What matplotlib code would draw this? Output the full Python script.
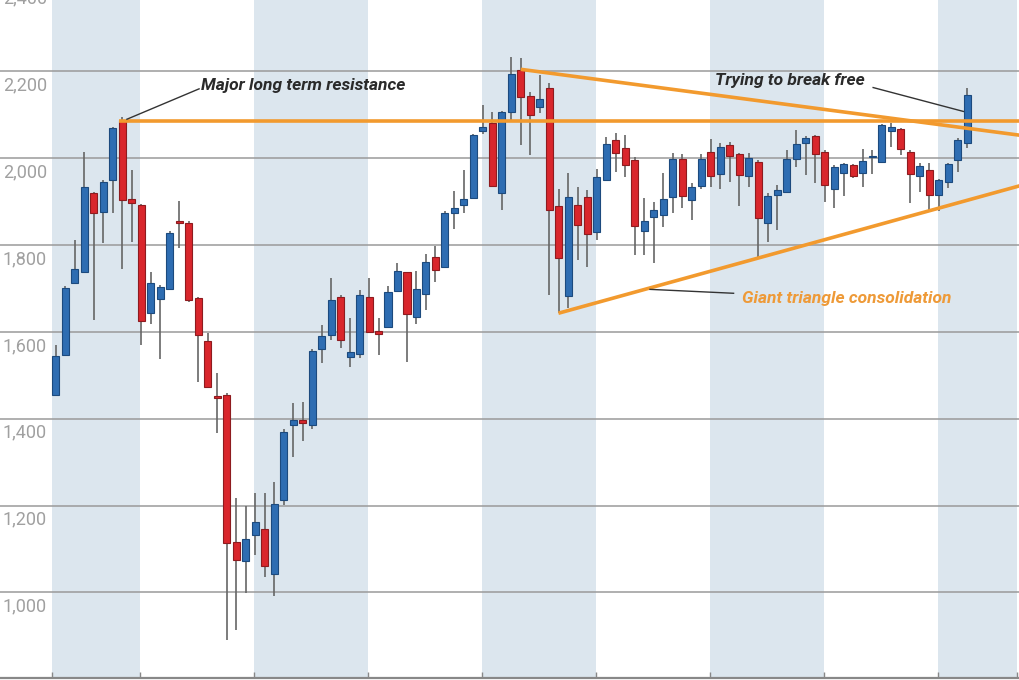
import matplotlib
matplotlib.use("Agg")
import matplotlib.pyplot as plt
import numpy as np

# ---------------- data (monthly candles) ----------------
opens = [1455, 1547, 1712, 1739, 1919, 1877, 1950, 2088, 1906, 1892,
         1644, 1676, 1700, 1853, 1850, 1677, 1579, 1453, 1455, 1117,
         1072, 1132, 1146, 1042, 1213, 1386, 1396, 1385, 1560, 1593,
         1681, 1543, 1549, 1681, 1603, 1611, 1694, 1737, 1634, 1687,
         1772, 1750, 1873, 1893, 1908, 2062, 2081, 1921, 2107, 2203,
         2144, 2119, 2161, 1889, 1683, 1892, 1910, 1831, 1950, 2042,
         2023, 1995, 1833, 1864, 1869, 1910, 1998, 1904, 1936, 2015,
         1964, 2031, 2010, 1960, 1992, 1852, 1915, 1923, 1998, 2036,
         2051, 2015, 1929, 1967, 1985, 1967, 2002, 1992, 2063, 2067,
         2015, 1959, 1973, 1915, 1946, 1996, 2035]
highs = [1570, 1705, 1812, 2015, 1922, 1950, 2072, 2095, 1973, 1895,
         1739, 1708, 1832, 1902, 1855, 1680, 1597, 1505, 1460, 1217,
         1199, 1228, 1228, 1255, 1376, 1437, 1439, 1560, 1616, 1724,
         1684, 1631, 1697, 1724, 1631, 1706, 1758, 1739, 1741, 1780,
         1799, 1878, 1925, 1973, 2056, 2123, 2106, 2110, 2233, 2230,
         2153, 2192, 2173, 1929, 1965, 1933, 1927, 1975, 2050, 2058,
         2054, 2002, 1908, 1900, 1965, 2013, 2010, 1944, 2010, 2044,
         2035, 2038, 2013, 2013, 1995, 1921, 1938, 2019, 2065, 2051,
         2053, 2018, 1984, 1989, 1987, 2021, 2019, 2080, 2081, 2070,
         2019, 1990, 1988, 1953, 1990, 2046, 2161]
lows = [1455, 1545, 1710, 1739, 1627, 1805, 1874, 1744, 1808, 1570,
        1618, 1537, 1696, 1793, 1670, 1485, 1470, 1366, 890, 913,
        998, 1086, 1036, 992, 1201, 1312, 1349, 1376, 1529, 1581,
        1562, 1520, 1541, 1598, 1547, 1609, 1692, 1531, 1618, 1650,
        1716, 1748, 1836, 1873, 1906, 2055, 1934, 1881, 2088, 2031,
        2008, 2104, 1685, 1643, 1654, 1766, 1750, 1812, 1948, 1968,
        1958, 1777, 1777, 1758, 1842, 1873, 1885, 1858, 1929, 1935,
        1929, 1946, 1889, 1935, 1773, 1808, 1835, 1921, 1981, 1962,
        1944, 1900, 1885, 1913, 1955, 1935, 1964, 1990, 2027, 2008,
        1898, 1923, 1882, 1879, 1931, 1969, 2023]
closes = [1545, 1702, 1744, 1935, 1873, 1946, 2069, 1904, 1897, 1624,
          1712, 1704, 1829, 1852, 1674, 1594, 1474, 1448, 1113, 1075,
          1124, 1161, 1061, 1204, 1369, 1396, 1390, 1556, 1591, 1674,
          1581, 1554, 1685, 1600, 1596, 1692, 1741, 1641, 1698, 1762,
          1743, 1873, 1885, 1906, 2054, 2071, 1937, 2107, 2194, 2142,
          2100, 2136, 1881, 1770, 1910, 1846, 1826, 1956, 2033, 2013,
          1985, 1844, 1856, 1882, 1906, 1998, 1912, 1935, 1998, 1960,
          2027, 2005, 1962, 2000, 1862, 1913, 1927, 1998, 2032, 2046,
          2009, 1938, 1981, 1987, 1960, 1994, 2005, 2077, 2071, 2021,
          1964, 1982, 1915, 1950, 1987, 2042, 2146]

grid_values = [1000, 1200, 1400, 1600, 1800, 2000, 2200, 2400]
grid_labels = ["1,000", "1,200", "1,400", "1,600", "1,800", "2,000", "2,200", "2,400"]

resistance_level = 2085
upper_trend = ([48.98, 101.6], [2205, 2053])
lower_trend = ([52.95, 101.6], [1643, 1937])

# ---------------- layout / style ----------------
band_edges = [-0.4, 8.9, 20.9, 32.9, 44.9, 56.9, 68.9, 80.9, 92.9, 101.25]
BLUE, BLUE_EDGE = "#2E6DB2", "#1C4A7E"
RED, RED_EDGE = "#D9262C", "#8E1B1F"
WICK = "#666666"
ORANGE = "#F29A2E"
BAND = "#DCE6EE"

fig = plt.figure(figsize=(10.2, 6.8), dpi=100)
ax = fig.add_axes([0, 2 / 680, 1, 678 / 680])
ax.set_xlim(-5.87, 101.57)
ax.set_ylim(802.6, 2364.7)

# alternating shaded bands
for i in range(0, len(band_edges) - 1, 2):
    ax.axvspan(band_edges[i], band_edges[i + 1], color=BAND, lw=0, zorder=0)

# gridlines
for v in grid_values:
    ax.axhline(v, color="#9a9a9a", lw=1.1, zorder=1)
for v, lab in zip(grid_values, grid_labels):
    ax.annotate(lab, xy=(0, v), xycoords=("axes fraction", "data"),
                xytext=(3, -5), textcoords="offset pixels",
                ha="left", va="top", fontsize=13, color="#a0a0a0",
                family=["Roboto", "DejaVu Sans"], fontweight="normal",
                zorder=2, annotation_clip=False)

# candles
x = np.arange(len(opens))
o = np.array(opens, float)
h = np.array(highs, float)
l = np.array(lows, float)
c = np.array(closes, float)
up = c >= o
ax.vlines(x, l, h, color=WICK, lw=1.2, zorder=2)
bottoms = np.minimum(o, c)
heights = np.maximum(np.abs(c - o), 3)
width = 0.74
ax.bar(x[up], heights[up], bottom=bottoms[up], width=width,
       color=BLUE, edgecolor=BLUE_EDGE, linewidth=0.8, zorder=3)
ax.bar(x[~up], heights[~up], bottom=bottoms[~up], width=width,
       color=RED, edgecolor=RED_EDGE, linewidth=0.8, zorder=3)

# trend lines
ax.plot([6.65, 101.6], [resistance_level, resistance_level], color=ORANGE,
        lw=2.6, solid_capstyle="butt", zorder=4)
ax.plot(*upper_trend, color=ORANGE, lw=2.6, solid_capstyle="butt", zorder=4)
ax.plot(*lower_trend, color=ORANGE, lw=2.6, solid_capstyle="butt", zorder=4)

# annotations
font = ["Roboto", "DejaVu Sans"]
ax.plot([7.5, 15.1], [2090, 2160], color="#333333", lw=1.0, zorder=5)
ax.text(15.35, 2158, "Major long term resistance", fontsize=12.5,
        fontweight="bold", style="italic", color="#2a2a2a",
        family=font, va="baseline", ha="left", zorder=6)

ax.plot([86.1, 95.6], [2163, 2108], color="#333333", lw=1.0, zorder=5)
ax.text(69.4, 2169, "Trying to break free", fontsize=12.5,
        fontweight="bold", style="italic", color="#2a2a2a",
        family=font, va="baseline", ha="left", zorder=6)

ax.plot([62.6, 71.4], [1698, 1689], color="#333333", lw=1.0, zorder=5)
ax.text(72.3, 1667, "Giant triangle consolidation", fontsize=12.5,
        fontweight="bold", style="italic", color="#EE9A38",
        family=font, va="baseline", ha="left", zorder=6)

# axes styling
for s in ["top", "left", "right"]:
    ax.spines[s].set_visible(False)
ax.spines["bottom"].set_color("#888888")
ax.spines["bottom"].set_linewidth(1.6)
ax.set_xticks(band_edges)
ax.tick_params(axis="x", direction="in", length=4, color="#888888",
               width=1.0, labelbottom=False)
ax.set_yticks([])

fig.savefig("out.png", dpi=100)
